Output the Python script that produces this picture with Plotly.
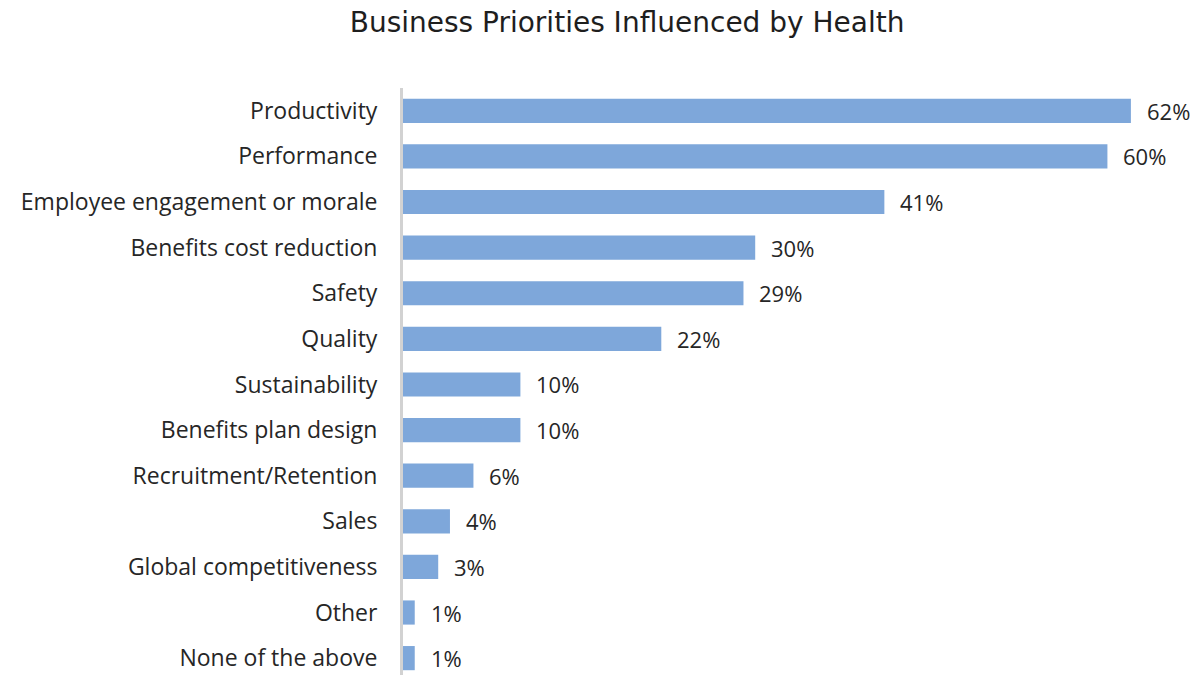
import plotly.graph_objects as go

# Survey results: share of respondents naming each business priority
categories = [
    "Productivity",
    "Performance",
    "Employee engagement or morale",
    "Benefits cost reduction",
    "Safety",
    "Quality",
    "Sustainability",
    "Benefits plan design",
    "Recruitment/Retention",
    "Sales",
    "Global competitiveness",
    "Other",
    "None of the above",
]
values = [62, 60, 41, 30, 29, 22, 10, 10, 6, 4, 3, 1, 1]
value_labels = [f"{v}%" for v in values]

BAR_COLOR = "#7ea7da"
TEXT_COLOR = "#262626"
FONT = "Open Sans"

fig = go.Figure(
    go.Bar(
        x=values,
        y=categories,
        orientation="h",
        width=0.53,
        marker=dict(color=BAR_COLOR, line=dict(width=0)),
        hoverinfo="skip",
    )
)

# Value labels placed just past the end of each bar
for cat, v, lab in zip(categories, values, value_labels):
    fig.add_annotation(
        x=v, y=cat, text=lab, showarrow=False,
        xanchor="left", yanchor="middle", xshift=15, yshift=0,
        borderpad=0,
        font=dict(family=FONT, size=22, color=TEXT_COLOR),
    )

fig.update_layout(
    width=1199, height=675,
    margin=dict(l=403, r=0, t=88, b=0),
    paper_bgcolor="white", plot_bgcolor="white",
    showlegend=False,
    title=dict(
        text="Business Priorities Influenced by Health",
        x=0.523, xref="container", xanchor="center",
        y=1 - 22 / 675, yref="container", yanchor="middle",
        font=dict(family="DejaVu Sans", size=28, color="#1e1e1e"),
    ),
    xaxis=dict(
        range=[0, 67.8], showgrid=False, zeroline=False,
        showticklabels=False, showline=False, ticks="",
        fixedrange=True,
    ),
    yaxis=dict(
        categoryorder="array", categoryarray=categories,
        range=[12.37, -0.5], showgrid=False, zeroline=False,
        showline=True, linecolor="#d2d2d2", linewidth=3,
        ticks="", ticklabelstandoff=18,
        tickfont=dict(family=FONT, size=23, color=TEXT_COLOR),
        fixedrange=True,
    ),
)

fig.write_html("out.html")
